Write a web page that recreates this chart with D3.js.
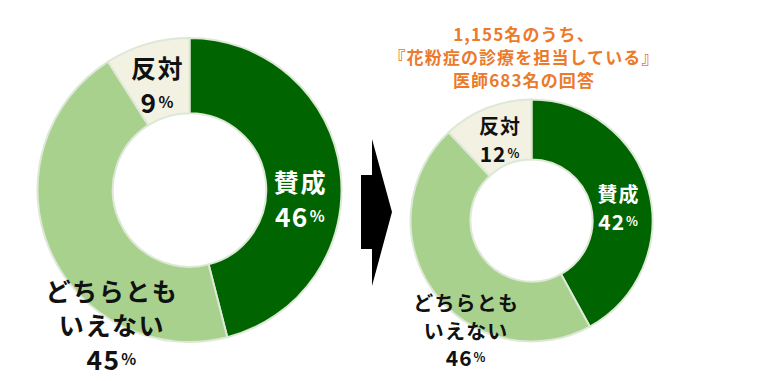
<!DOCTYPE html>
<html><head><meta charset="utf-8">
<script src="https://cdn.jsdelivr.net/npm/d3@7"></script>
<style>
html,body{margin:0;padding:0;background:#fff;}
svg{display:block;font-family:"Noto Sans CJK JP","Noto Sans",sans-serif;font-weight:bold;}
</style></head>
<body><svg id="c" width="764" height="381"></svg>
<script>
const categories = ["賛成", "どちらとも\nいえない", "反対"];
const valuesAll = [46, 45, 9];
const valuesPollen = [42, 46, 12];
const titleLines = ["1,155名のうち、", "『花粉症の診療を担当している』", "医師683名の回答"];

const colors = ["#006400", "#A9D18E", "#F3F2E2"];
const textColors = ["#ffffff", "#111111", "#111111"];

const svg = d3.select("#c");

function donut(values, cx, cy, R, labelPos) {
  const g = svg.append("g").attr("transform", `translate(${cx},${cy})`);
  const pie = d3.pie().sort(null).value(d => d)(values);
  const arc = d3.arc().innerRadius(R * 0.505).outerRadius(R);
  g.selectAll("path").data(pie).join("path")
    .attr("d", arc)
    .attr("fill", (d, i) => colors[i])
    .attr("stroke", "#DDE8D6")
    .attr("stroke-width", 2);
  const fs = R * 0.165;
  const lh = fs * 1.36;
  pie.forEach((d, i) => {
    const lines = categories[i].split("\n");
    const all = lines.length + 1;
    const [px, py] = labelPos[i];
    const x = px * R, y0 = py * R - (all - 1) * lh / 2;
    const t = g.append("text").attr("text-anchor", "middle")
      .attr("fill", textColors[i]).style("font-size", fs + "px")
      .style("letter-spacing", (fs * 0.06) + "px");
    lines.forEach((ln, k) => {
      t.append("tspan").attr("x", x).attr("y", y0 + k * lh)
        .attr("dominant-baseline", "central").text(ln);
    });
    const pt = g.append("text").attr("text-anchor", "middle")
      .attr("fill", textColors[i])
      .attr("x", x).attr("y", y0 + lines.length * lh)
      .attr("dominant-baseline", "central")
      .style("letter-spacing", (fs * 0.05) + "px");
    pt.append("tspan").style("font-size", fs * 1.05 + "px").text(values[i]);
    pt.append("tspan").style("font-size", fs * 0.62 + "px").attr("dx", 1).text("%");
  });
}

donut(valuesAll, 189.5, 190, 152, [[0.73, 0.05], [-0.51, 0.88], [-0.21, -0.70]]);
donut(valuesPollen, 531.5, 220.5, 121, [[0.72, -0.11], [-0.54, 0.905], [-0.26, -0.67]]);

// arrow
const ax = 361, ay = 212;
svg.append("path")
  .attr("d", `M${ax},${ay - 37} L${ax + 11},${ay - 37} L${ax + 11},${ay - 73} L${ax + 31},${ay} L${ax + 11},${ay + 74} L${ax + 11},${ay + 37} L${ax},${ay + 37} Z`)
  .attr("fill", "#000");

// title
const tt = svg.append("text").attr("text-anchor", "middle").attr("fill", "#EB7A2B")
  .style("font-size", "17px").style("letter-spacing", "1.1px");
titleLines.forEach((ln, k) => {
  tt.append("tspan").attr("x", 524).attr("y", 33 + k * 23)
    .attr("dominant-baseline", "central").text(ln);
});
</script></body></html>
